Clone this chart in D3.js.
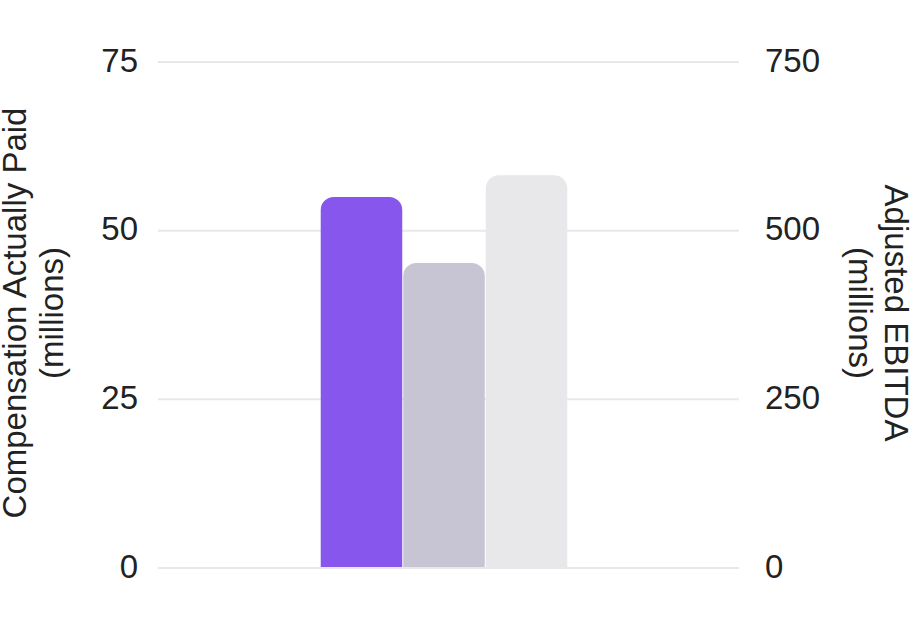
<!DOCTYPE html>
<html>
<head>
<meta charset="utf-8">
<script src="https://cdn.jsdelivr.net/npm/d3@7"></script>
<style>
  html, body { margin: 0; padding: 0; background: #fff; }
  svg text { font-family: "Liberation Sans", Arial, Helvetica, sans-serif; fill: #222; }
</style>
</head>
<body>
<svg id="chart" width="921" height="644"></svg>
<script>
(function() {
  // data
  var categories = ["2023"];
  var seriesNames = ["CAP", "Peer CAP", "Adjusted EBITDA"];
  var seriesAxis = ["left", "left", "right"];
  var seriesValues = [55, 45.2, 582];
  var seriesColors = ["#8757ed", "#c7c5d3", "#e8e8ea"];
  var leftTicks = [0, 25, 50, 75];
  var rightTicks = [0, 250, 500, 750];
  var leftTitle = ["Compensation Actually Paid", "(millions)"];
  var rightTitle = ["Adjusted EBITDA", "(millions)"];

  var W = 921, H = 644;
  var M = {top: 62, right: 182, bottom: 76, left: 158};
  var fontSize = 33;

  var svg = d3.select("#chart");

  var yL = d3.scaleLinear().domain([0, 75]).range([H - M.bottom, M.top]);
  var yR = d3.scaleLinear().domain([0, 750]).range([H - M.bottom, M.top]);

  var x0 = d3.scaleBand()
    .domain(categories)
    .range([M.left, 730])
    .paddingInner(0)
    .paddingOuter(0.66);
  var x1 = d3.scaleBand()
    .domain(seriesNames)
    .range([0, x0.bandwidth()])
    .paddingInner(0.012);

  // gridlines
  svg.append("g").selectAll("line")
    .data(leftTicks.filter(function(d) { return d > 0; }))
    .enter()
    .append("line")
    .attr("x1", M.left)
    .attr("x2", W - M.right)
    .attr("y1", function(d) { return yL(d); })
    .attr("y2", function(d) { return yL(d); })
    .attr("stroke", "#e8e8ea")
    .attr("stroke-width", 2);

  // bars with rounded tops
  var r = 13;
  var topRounded = function(x, y, w, h) {
    var rr = Math.min(r, w / 2, h);
    return "M" + x + "," + (y + h) +
      "V" + (y + rr) +
      "A" + rr + "," + rr + " 0 0 1 " + (x + rr) + "," + y +
      "H" + (x + w - rr) +
      "A" + rr + "," + rr + " 0 0 1 " + (x + w) + "," + (y + rr) +
      "V" + (y + h) + "Z";
  };

  var bars = seriesNames.map(function(name, i) {
    return {name: name, value: seriesValues[i], axis: seriesAxis[i], color: seriesColors[i]};
  });

  svg.append("g").selectAll("path")
    .data(bars)
    .enter()
    .append("path")
    .attr("fill", function(d) { return d.color; })
    .attr("d", function(d) {
      var y = d.axis === "left" ? yL : yR;
      var bx = x0(categories[0]) + x1(d.name);
      var top = y(d.value);
      return topRounded(bx, top, x1.bandwidth(), y(0) - top);
    });

  // baseline on top of bars
  svg.append("line")
    .attr("x1", M.left)
    .attr("x2", W - M.right)
    .attr("y1", yL(0))
    .attr("y2", yL(0))
    .attr("stroke", "#e8e8ea")
    .attr("stroke-width", 2);

  // tick labels
  svg.append("g").selectAll("text")
    .data(leftTicks)
    .enter()
    .append("text")
    .attr("x", 138)
    .attr("y", function(d) { return yL(d); })
    .attr("dy", "0.29em")
    .attr("text-anchor", "end")
    .style("font-size", fontSize + "px")
    .text(function(d) { return d; });

  svg.append("g").selectAll("text")
    .data(rightTicks)
    .enter()
    .append("text")
    .attr("x", 765)
    .attr("y", function(d) { return yR(d); })
    .attr("dy", "0.29em")
    .attr("text-anchor", "start")
    .style("font-size", fontSize + "px")
    .text(function(d) { return d; });

  // axis titles
  var midY = 313;
  var lt = svg.append("text")
    .attr("transform", "translate(26," + midY + ") rotate(-90)")
    .attr("text-anchor", "middle")
    .style("font-size", fontSize + "px");
  lt.selectAll("tspan")
    .data(leftTitle)
    .enter()
    .append("tspan")
    .attr("x", 0)
    .attr("dy", function(d, i) { return i ? 37 : 0; })
    .text(function(d) { return d; });

  var rt = svg.append("text")
    .attr("transform", "translate(885," + midY + ") rotate(90)")
    .attr("text-anchor", "middle")
    .style("font-size", fontSize + "px");
  rt.selectAll("tspan")
    .data(rightTitle)
    .enter()
    .append("tspan")
    .attr("x", 0)
    .attr("dy", function(d, i) { return i ? 36 : 0; })
    .text(function(d) { return d; });
})();
</script>
</body>
</html>
